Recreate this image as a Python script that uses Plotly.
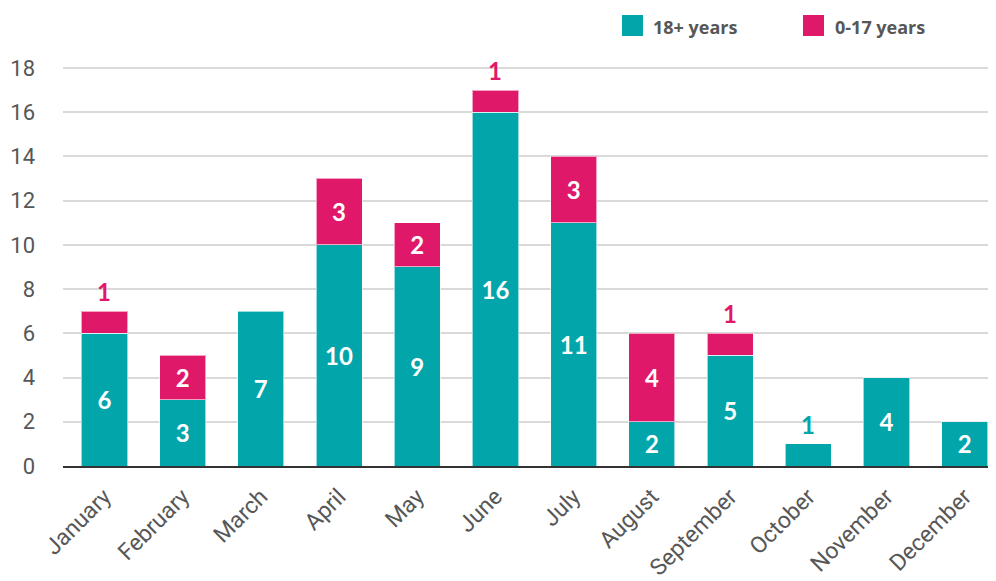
import plotly.graph_objects as go

months = ["January", "February", "March", "April", "May", "June", "July",
          "August", "September", "October", "November", "December"]
adults = [6, 3, 7, 10, 9, 16, 11, 2, 5, 1, 4, 2]          # 18+ years
minors = [1, 2, None, 3, 2, 1, 3, 4, 1, None, None, None]  # 0-17 years
series_names = ["18+ years", "0-17 years"]
y_ticks = [0, 2, 4, 6, 8, 10, 12, 14, 16, 18]

TEAL = "#02A6AA"
MAGENTA = "#DF1869"
GRAY = "#575757"

OFF = 8  # page body margin added by the html wrapper
W, H = 996 - OFF, 581 - OFF
L, R, T, B = 63 - OFF, 0, 50 - OFF, 115
PW, PH = W - L - R, H - T - B


def px_x(x):
    return (x - OFF - L) / PW


def px_y(y):
    return 1 - (y - OFF - T) / PH


def inside_text(vals):
    return ["" if (v is None or v < 2) else str(v) for v in vals]


label_font = dict(family="Lato", size=24, color="white", weight="bold")

fig = go.Figure()
fig.add_trace(go.Bar(
    x=months, y=adults, name=series_names[0], marker_color=TEAL,
    marker_line=dict(color="rgba(255,255,255,0.6)", width=1),
    text=inside_text(adults), textposition="inside", insidetextanchor="middle",
    textfont=label_font, constraintext="none", showlegend=False,
))
fig.add_trace(go.Bar(
    x=months, y=minors, name=series_names[1], marker_color=MAGENTA,
    marker_line=dict(color="rgba(255,255,255,0.6)", width=1),
    text=inside_text(minors), textposition="inside", insidetextanchor="middle",
    textfont=label_font, constraintext="none", showlegend=False,
))

annotations = []
# small segments labelled above the stack
for m, a, k in zip(months, adults, minors):
    total = a + (k or 0)
    if k == 1:
        annotations.append(dict(x=m, y=total, text=str(k), showarrow=False,
                                yanchor="bottom", yshift=3,
                                font=dict(family="Lato", size=24, color=MAGENTA, weight="bold")))
    elif k is None and a == 1:
        annotations.append(dict(x=m, y=total, text=str(a), showarrow=False,
                                yanchor="bottom", yshift=3,
                                font=dict(family="Lato", size=24, color=TEAL, weight="bold")))

# legend (square swatches + labels)
shapes = []
legend_items = [(series_names[0], TEAL, 622, 654), (series_names[1], MAGENTA, 803, 836)]
for name, col, sx, tx in legend_items:
    shapes.append(dict(type="rect", xref="paper", yref="paper",
                       x0=px_x(sx), x1=px_x(sx + 21), y0=px_y(36), y1=px_y(15),
                       fillcolor=col, line=dict(width=0)))
    annotations.append(dict(xref="paper", yref="paper", x=px_x(tx) - 0.003, y=px_y(27),
                            xanchor="left", yanchor="middle", showarrow=False,
                            text=name, font=dict(family="Open Sans", size=18, color=GRAY, weight=700)))

fig.update_layout(
    width=W, height=H,
    margin=dict(l=L, r=R, t=T, b=B, autoexpand=False),
    paper_bgcolor="white", plot_bgcolor="white",
    barmode="stack", bargap=0.41,
    showlegend=False,
    shapes=shapes, annotations=annotations,
    xaxis=dict(
        range=[-0.53, 11.4], tickangle=-45, automargin=False,
        tickfont=dict(family="Roboto", size=23, color=GRAY),
        showline=True, linecolor="#333333", linewidth=2,
        showgrid=False, ticks="", ticklabelstandoff=6,
    ),
    yaxis=dict(
        range=[0, 18.81], tickvals=y_ticks, automargin=False,
        tickfont=dict(family="Roboto", size=22, color=GRAY),
        showgrid=True, gridcolor="#D9D9D9", gridwidth=1.5,
        zeroline=False, ticks="", ticklabelstandoff=27,
    ),
)

fig.write_html("out.html")
